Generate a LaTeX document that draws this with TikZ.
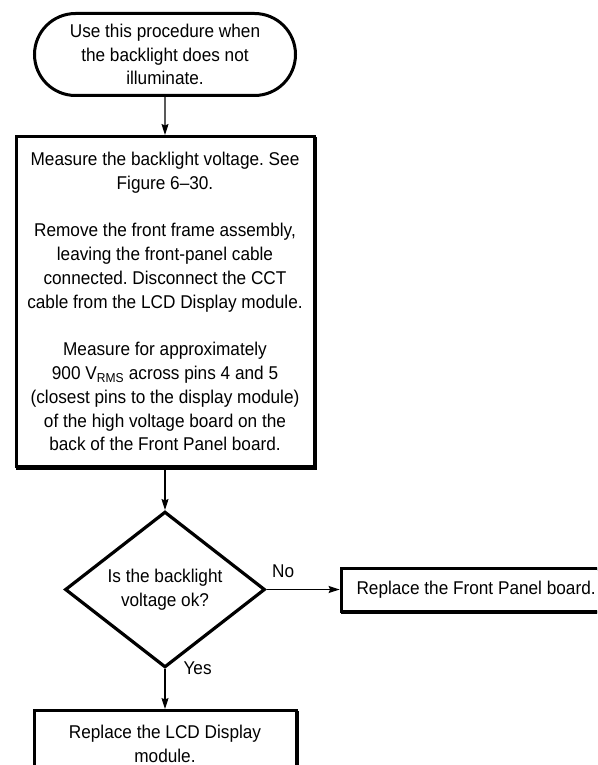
\documentclass[tikz,border=0pt]{standalone}
\usepackage{fontspec}
\setmainfont{Liberation Sans}[FakeStretch=0.93]
\usetikzlibrary{arrows.meta,positioning,shapes.geometric,shapes.misc}

\begin{document}
\frenchspacing
\begin{tikzpicture}[
x=1pt,y=1pt,
font=\fontsize{18.5}{23.8}\selectfont,
startstop/.style={rounded rectangle,draw,line width=3pt,fill=white,align=center,
inner sep=0pt,minimum width=261pt,minimum height=82pt},
action/.style={rectangle,draw,line width=3pt,fill=white,align=center,inner sep=0pt,
preaction={draw,line width=3pt,transform canvas={shift={(1.6pt,-1.6pt)}}}},
decision/.style={diamond,draw,line width=3.2pt,fill=white,align=center,
inner sep=0pt,minimum width=200pt,minimum height=146pt},
flow/.style={-{Stealth[length=11pt,width=7pt,inset=1.5pt]},line width=1.1pt},
answer/.style={inner sep=2pt}
]
\useasboundingbox (0,0) rectangle (597,-765);
\clip (0,0) rectangle (597,-765);

\node[startstop] (start) at (165,-54.5) {Use this procedure when\\the backlight does not\\illuminate.};
\node[action,minimum width=298pt,minimum height=330pt,below=38pt of start] (measure)
{Measure the backlight voltage. See\\Figure 6–30.\\[23.8pt]
Remove the front frame assembly,\\leaving the front-panel cable\\connected. Disconnect the CCT\\cable from the LCD Display module.\\[23.8pt]
Measure for approximately\\900 V\textsubscript{RMS} across pins 4 and 5\\(closest pins to the display module)\\of the high voltage board on the\\back of the Front Panel board.};
\node[decision,below=42pt of measure] (check) {Is the backlight\\voltage ok?};
\node[action,minimum width=270pt,minimum height=43pt,right=73pt of check] (panel) {Replace the Front Panel board.};
\node[action,minimum width=262pt,minimum height=66pt,below=40pt of check] (lcd) {Replace the LCD Display\\module.};

\draw[flow] (start) -- (measure);
\draw[flow] (measure) -- (check);
\draw[flow] (check) -- node[answer,pos=0,anchor=south west,xshift=3pt,yshift=9pt] {No} (panel);
\draw[flow] (check) -- node[answer,pos=0,anchor=north west,xshift=16pt,yshift=10pt] {Yes} (lcd);
\end{tikzpicture}
\end{document}
